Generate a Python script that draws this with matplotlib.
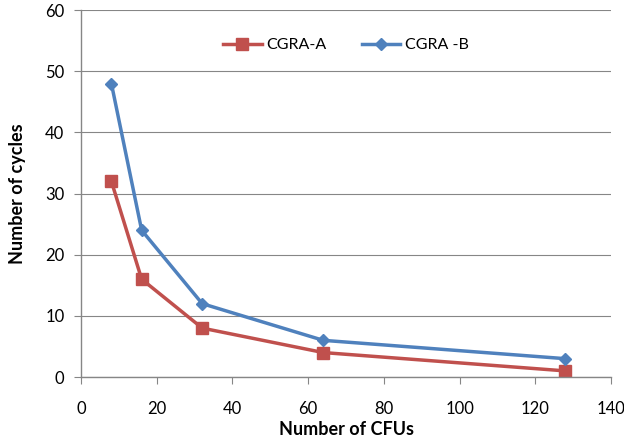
import matplotlib
matplotlib.use("Agg")
import matplotlib.pyplot as plt

plt.rcParams['font.family'] = ['Lato', 'DejaVu Sans']

cfus = [8, 16, 32, 64, 128]
cgra_a = [32, 16, 8, 4, 1]
cgra_b = [48, 24, 12, 6, 3]

fig = plt.figure(figsize=(6.24, 4.42), dpi=100)
ax = fig.add_axes([0.13, 0.147, 0.849, 0.83])

ax.plot(cfus, cgra_a, color='#C0504D', lw=2.5, marker='s', ms=9, label='CGRA-A')
ax.plot(cfus, cgra_b, color='#4F81BD', lw=2.5, marker='D', ms=6.5, label='CGRA -B')

ax.set_xlim(0, 140)
ax.set_ylim(0, 60)
ax.set_xticks(range(0, 141, 20))
ax.set_yticks(range(0, 61, 10))
ax.grid(axis='y', color='#868686', lw=0.8)
ax.set_axisbelow(True)
for s in ['top', 'right']:
    ax.spines[s].set_visible(False)
for s in ['left', 'bottom']:
    ax.spines[s].set_color('#868686')
    ax.spines[s].set_linewidth(1.0)
ax.tick_params(colors='#868686', length=5, labelcolor='black', labelsize=12)
ax.tick_params(axis='x', pad=12)
ax.tick_params(axis='y', pad=7)

ax.set_xlabel('Number of CFUs', fontsize=13, fontweight='bold', labelpad=3)
ax.set_ylabel('Number of cycles', fontsize=13, fontweight='bold', labelpad=14)

ax.legend(loc='center', bbox_to_anchor=(0.5, 0.905), ncol=2, frameon=False,
          fontsize=11.5, handlelength=2.4, handletextpad=0.3, columnspacing=2.2)

fig.savefig('out.png', dpi=100)
